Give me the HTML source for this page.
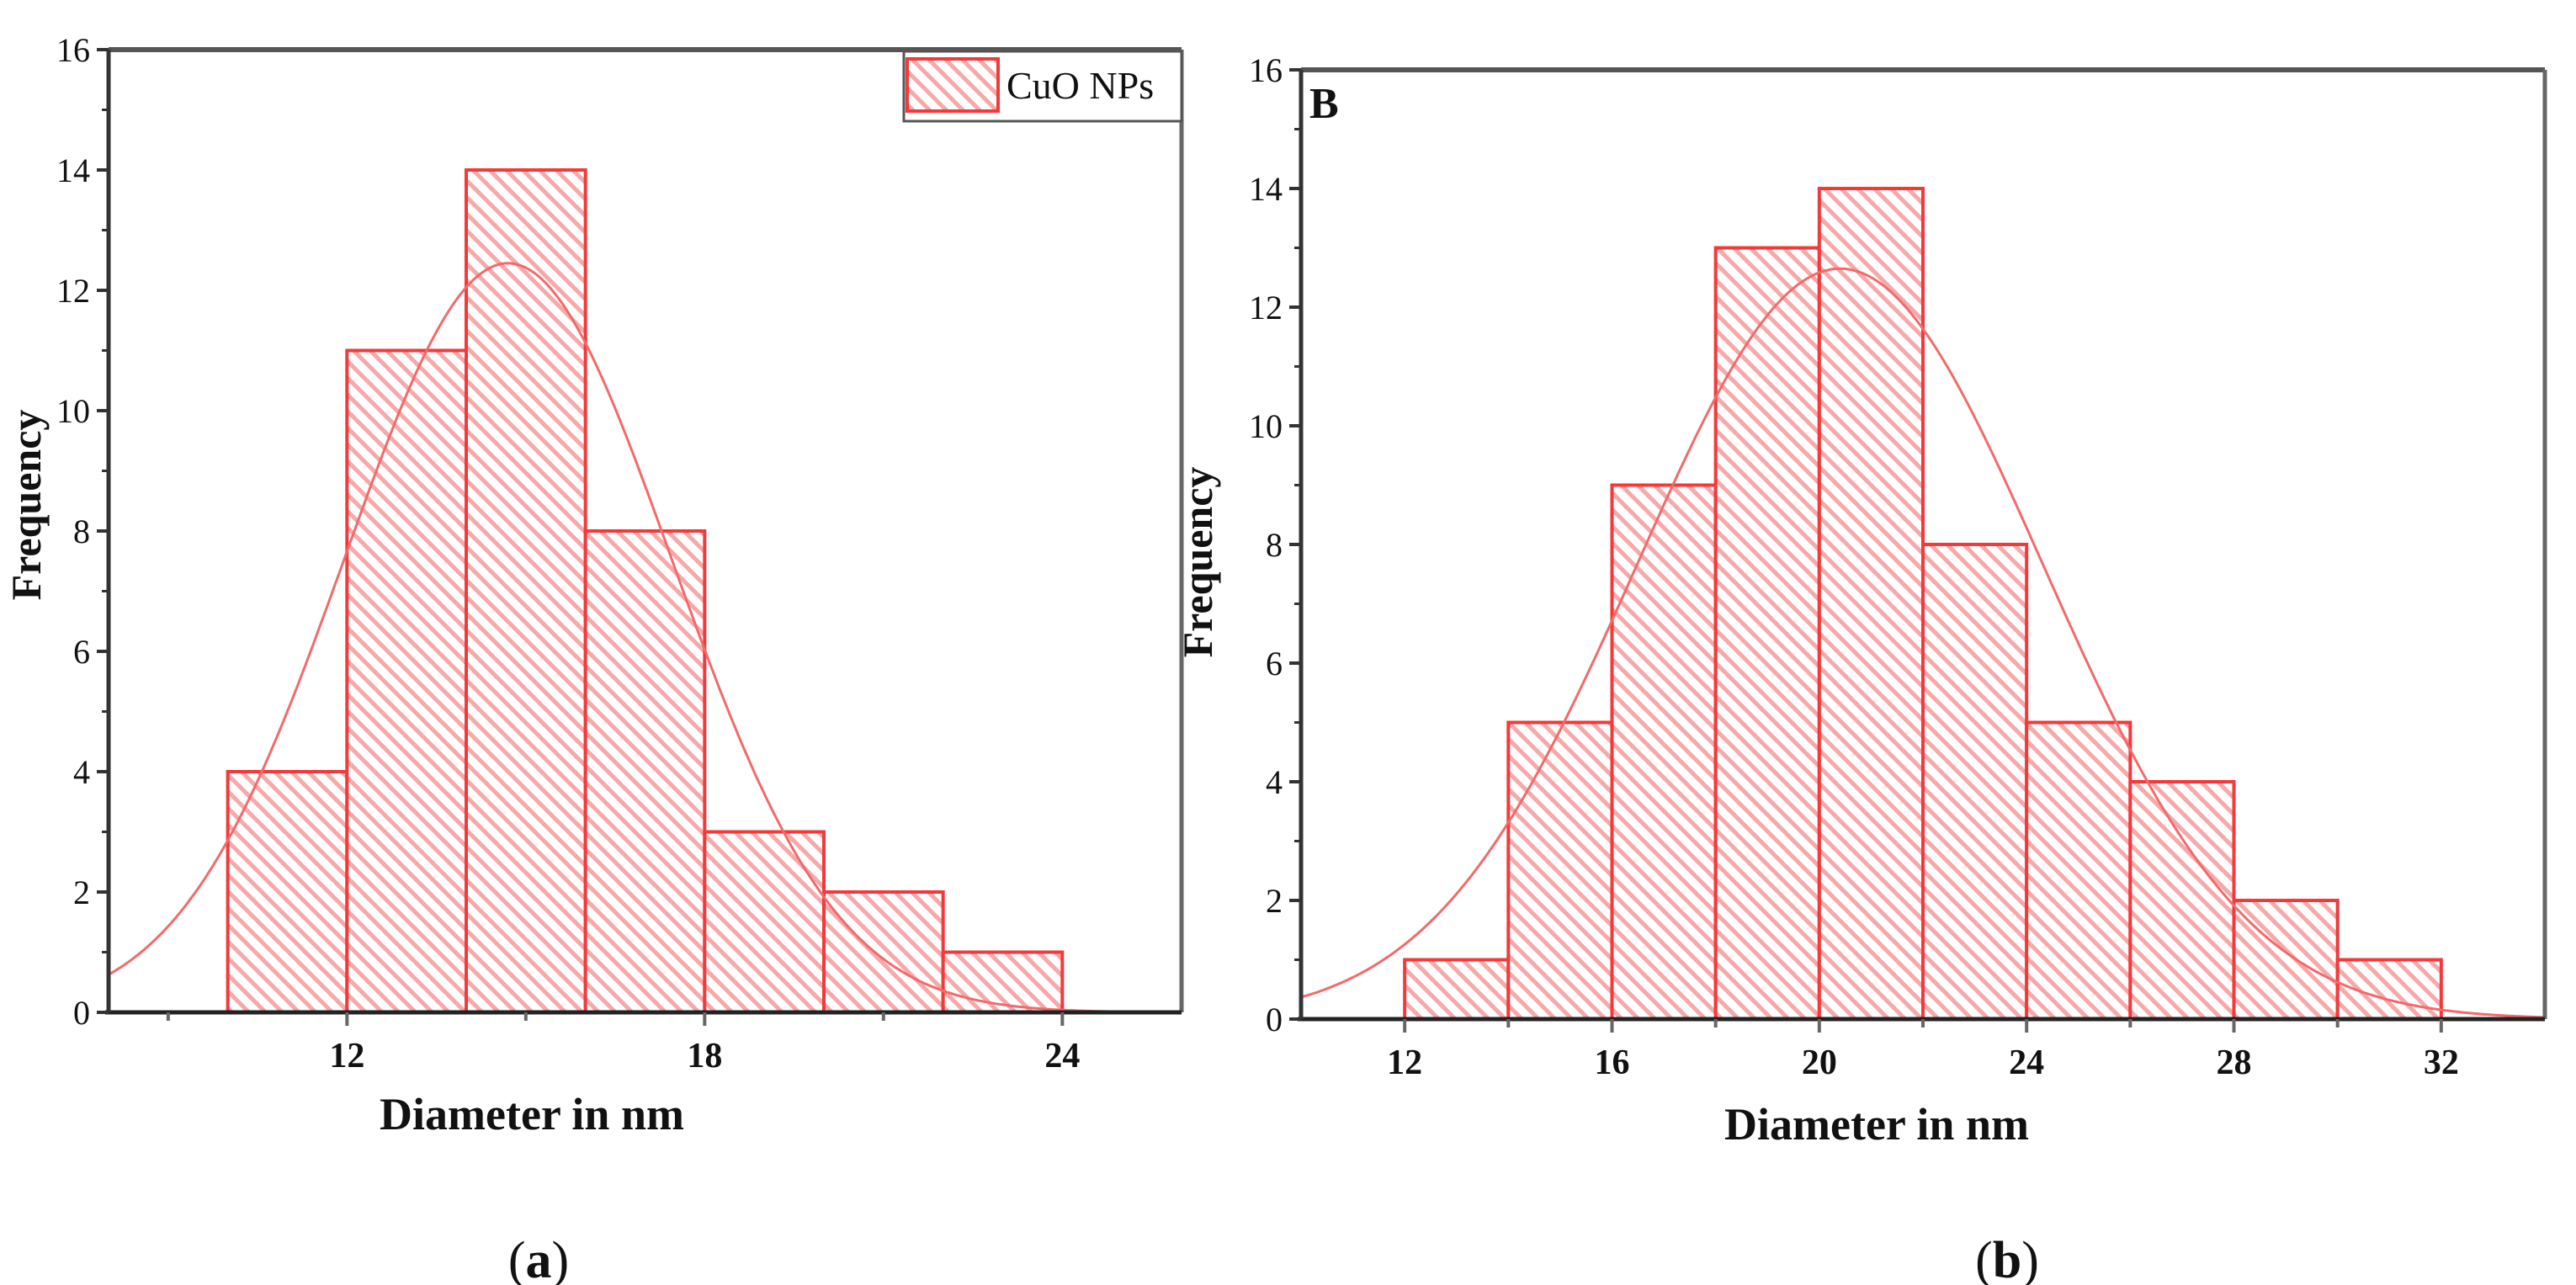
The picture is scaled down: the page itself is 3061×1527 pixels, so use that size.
<!DOCTYPE html>
<html><head><meta charset="utf-8"><style>
html,body{margin:0;padding:0;background:#fff;}
svg{display:block;}
text{font-family:"Liberation Serif",serif;fill:#111;}
</style></head><body>
<svg id="fig" width="3061" height="1527" viewBox="0 0 3061 1527" xmlns="http://www.w3.org/2000/svg">
<defs>
<pattern id="hatch" patternUnits="userSpaceOnUse" width="14" height="14" patternTransform="rotate(-45)">
<rect width="14" height="14" fill="#fff"/>
<rect x="0" y="0" width="5" height="14" fill="#f7a8a8"/>
</pattern>
</defs>
</svg>
<script>
// Panel (a) data
const binsA = [10,12,14,16,18,20,22];
const countsA = [4,11,14,8,3,2,1];
const fitA = {mu:14.7, sigma:2.74, amp:12.45};
const xTicksA = [12,18,24];
const xMinorA = [9,15,21];
// Panel (b) data
const binsB = [12,14,16,18,20,22,24,26,28,30];
const countsB = [1,5,9,13,14,8,5,4,2,1];
const fitB = {mu:20.4, sigma:3.91, amp:12.65};
const xTicksB = [12,16,20,24,28,32];
const xMinorB = [14,18,22,26,30];
const yTicks = [0,2,4,6,8,10,12,14,16];
const binWidth = 2;

const NS='http://www.w3.org/2000/svg';
const svg=document.getElementById('fig');
function mk(tag,attrs,parent){const e=document.createElementNS(NS,tag);for(const k in attrs)e.setAttribute(k,attrs[k]);(parent||svg).appendChild(e);return e;}

function panel(cfg){
  const g=mk('g',{});
  
  
  const X=v=>cfg.x0+(v-cfg.xmin)/(cfg.xmax-cfg.xmin)*(cfg.x1-cfg.x0);
  const Y=v=>cfg.y0-(v/16)*(cfg.y0-cfg.y1);
  cfg.bins.forEach((b,i)=>{
    const r=mk('rect',{x:X(b),y:Y(cfg.counts[i]),width:X(b+binWidth)-X(b),height:Y(0)-Y(cfg.counts[i]),fill:'url(#hatch)',stroke:'#f23a3a','stroke-width':4},g);
    
    
  });
  let d='';
  for(let i=0;i<=300;i++){const v=cfg.xmin+(cfg.xmax-cfg.xmin)*i/300;const f=cfg.fit.amp*Math.exp(-Math.pow(v-cfg.fit.mu,2)/(2*cfg.fit.sigma*cfg.fit.sigma));d+=(i?'L':'M')+X(v).toFixed(1)+','+Y(f).toFixed(1);}
  const c=mk('path',{d:d,fill:'none',stroke:'#f26a6a','stroke-width':3},g);
  
  
  mk('line',{x1:cfg.x0,y1:cfg.y1,x2:cfg.x1,y2:cfg.y1,stroke:'#555','stroke-width':6},g);
  mk('line',{x1:cfg.x1,y1:cfg.y1,x2:cfg.x1,y2:cfg.y0,stroke:'#666','stroke-width':5},g);
  const xa=mk('line',{x1:cfg.x0-4,y1:cfg.y0,x2:cfg.x1,y2:cfg.y0,stroke:'#222','stroke-width':5},g);
  
  
  const ya=mk('line',{x1:cfg.x0,y1:cfg.y0,x2:cfg.x0,y2:cfg.y1,stroke:'#333','stroke-width':5},g);
  
  
  yTicks.forEach(t=>{
    mk('line',{x1:cfg.x0-14,y1:Y(t),x2:cfg.x0,y2:Y(t),stroke:'#333','stroke-width':4},g);
    const tx=mk('text',{x:cfg.x0-22,y:Y(t)+14,'text-anchor':'end','font-size':40},g);
    tx.textContent=t;
    
    
    if(t<16) mk('line',{x1:cfg.x0-8,y1:Y(t+1),x2:cfg.x0,y2:Y(t+1),stroke:'#333','stroke-width':3},g);
  });
  cfg.xticks.forEach(t=>{
    mk('line',{x1:X(t),y1:cfg.y0,x2:X(t),y2:cfg.y0+16,stroke:'#666','stroke-width':4},g);
    const tx=mk('text',{x:X(t),y:cfg.y0+65,'text-anchor':'middle','font-size':42,'font-weight':'bold'},g);
    tx.textContent=t;
    
    
  });
  cfg.xminor.forEach(t=>{mk('line',{x1:X(t),y1:cfg.y0,x2:X(t),y2:cfg.y0+10,stroke:'#666','stroke-width':4},g);});
  const xt=mk('text',{x:cfg.xtx,y:cfg.xty,'text-anchor':'middle','font-size':54,'font-weight':'bold'},g);
  xt.textContent='Diameter in nm';
  
  
  const yt=mk('text',{x:0,y:0,'text-anchor':'middle','font-size':50,'font-weight':'bold',transform:'translate('+cfg.ytx+','+cfg.yty+') rotate(-90)'},g);
  yt.textContent='Frequency';
  
  
  const cap=mk('text',{x:cfg.capx,y:1518,'text-anchor':'middle','font-size':62},g);
  cap.innerHTML='(<tspan font-weight="bold">'+cfg.cap+'</tspan>)';
  
  
  return g;
}

panel({name:'histogram-a',x0:129,x1:1404,y0:1203,y1:59,xmin:8,xmax:26,bins:binsA,counts:countsA,fit:fitA,xticks:xTicksA,xminor:xMinorA,xtx:632,xty:1342,ytx:48,yty:600,capx:640,cap:'a'});
panel({name:'histogram-b',x0:1546,x1:3024,y0:1211,y1:83,xmin:10,xmax:34,bins:binsB,counts:countsB,fit:fitB,xticks:xTicksB,xminor:xMinorB,xtx:2230,xty:1354,ytx:1440,yty:668,capx:2385,cap:'b'});

const lg=mk('g',{});


mk('rect',{x:1074,y:61,width:330,height:83,fill:'#fff',stroke:'#555','stroke-width':3},lg);
const sw=mk('rect',{x:1078,y:70,width:108,height:62,fill:'url(#hatch)',stroke:'#f23a3a','stroke-width':4},lg);


const lt=mk('text',{x:1196,y:117,'font-size':46},lg);
lt.textContent='CuO NPs';


const bl=mk('text',{x:1556,y:140,'font-size':52,'font-weight':'bold'});
bl.textContent='B';


</script>
</body></html>
